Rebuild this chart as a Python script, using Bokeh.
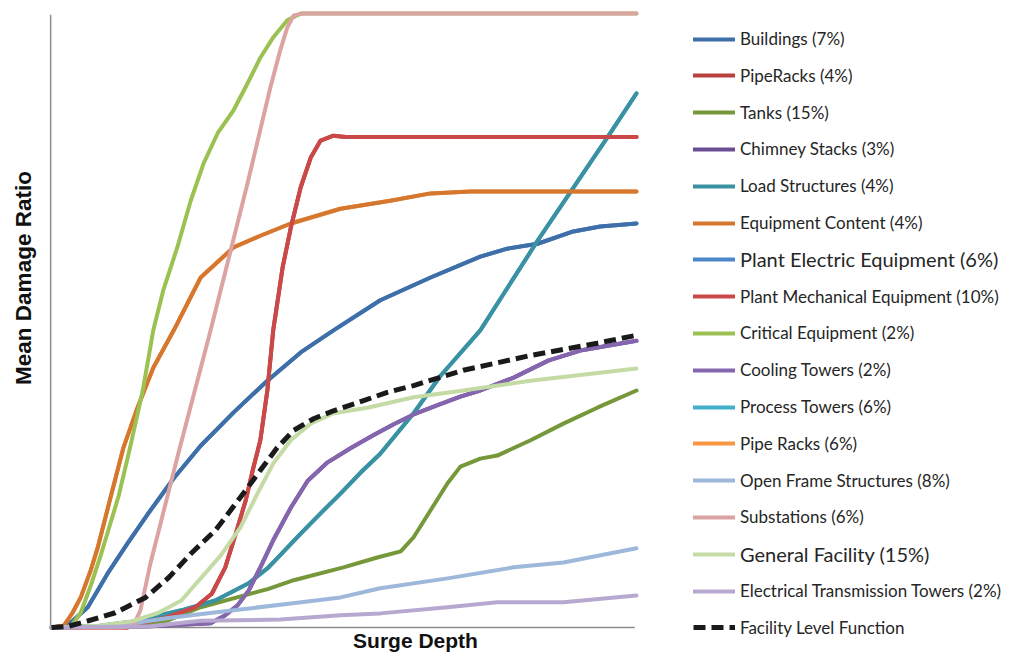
import math
from bokeh.plotting import figure
from bokeh.models import Legend, LegendItem, Label, Range1d
from bokeh.embed import file_html
from bokeh.resources import INLINE

# ---- data (surge depth in arbitrary units 0..100, mean damage ratio 0..1) ----
buildings_x = [0, 2.7, 6.2, 9.6, 13.0, 16.4, 20.9, 25.5, 31.1, 36.9, 42.6, 48.2, 56.2, 64.8, 73.3, 77.9, 83.1, 89.2, 93.8, 100]
buildings_y = [0, 0.003, 0.033, 0.088, 0.137, 0.184, 0.243, 0.296, 0.350, 0.402, 0.448, 0.484, 0.533, 0.570, 0.604, 0.617, 0.625, 0.645, 0.653, 0.658]

mech_x = [0, 13.0, 13.7, 19.5, 24.6, 27.4, 29.7, 31.5, 33.2, 34.4, 35.7, 36.9, 37.9, 39.5, 40.9, 42.6, 44.3, 46.0, 48.2, 50.3, 100]
mech_y = [0, 0, 0.003, 0.016, 0.033, 0.055, 0.098, 0.153, 0.207, 0.256, 0.305, 0.386, 0.484, 0.586, 0.651, 0.717, 0.765, 0.793, 0.801, 0.799, 0.799]

tanks_x = [0, 11.8, 19.8, 25.5, 37.1, 41.4, 49.9, 55.7, 59.7, 61.9, 64.8, 67.7, 69.9, 73.3, 76.2, 81.9, 87.5, 93.3, 100]
tanks_y = [0, 0.002, 0.011, 0.033, 0.063, 0.077, 0.098, 0.114, 0.124, 0.147, 0.191, 0.235, 0.262, 0.275, 0.280, 0.305, 0.332, 0.358, 0.386]

cooling_x = [0, 16.9, 27.2, 29.7, 31.8, 33.7, 35.7, 37.9, 40.9, 43.8, 47.2, 51.1, 55.0, 58.5, 61.9, 66.0, 69.9, 73.3, 79.0, 85.0, 90.4, 100]
cooling_y = [0, 0.002, 0.007, 0.020, 0.036, 0.060, 0.098, 0.142, 0.195, 0.239, 0.269, 0.292, 0.313, 0.331, 0.347, 0.362, 0.376, 0.386, 0.407, 0.435, 0.451, 0.467]

load_x = [0, 8.4, 14.0, 22.2, 28.0, 33.7, 37.1, 42.6, 46.0, 49.4, 52.8, 56.2, 61.9, 66.5, 73.3, 83.1, 95.0, 100]
load_y = [0, 0.003, 0.010, 0.028, 0.044, 0.072, 0.098, 0.153, 0.186, 0.218, 0.252, 0.283, 0.349, 0.410, 0.484, 0.630, 0.798, 0.870]

equip_x = [0, 2.1, 3.6, 5.0, 6.7, 7.9, 10.1, 12.3, 14.7, 17.4, 20.9, 25.5, 31.1, 35.7, 40.9, 49.4, 57.9, 64.8, 71.6, 100]
equip_y = [0, 0.003, 0.024, 0.049, 0.093, 0.130, 0.212, 0.293, 0.358, 0.423, 0.484, 0.570, 0.619, 0.638, 0.658, 0.682, 0.695, 0.707, 0.710, 0.710]

critical_x = [0, 3.2, 5.0, 6.7, 8.4, 9.7, 11.5, 13.5, 15.6, 17.4, 19.1, 21.5, 23.8, 26.0, 28.4, 31.1, 33.5, 35.7, 37.9, 40.3, 42.6, 100]
critical_y = [0, 0, 0.024, 0.068, 0.117, 0.158, 0.215, 0.296, 0.386, 0.484, 0.549, 0.619, 0.695, 0.756, 0.805, 0.842, 0.886, 0.928, 0.961, 0.989, 1.0, 1.0]

subst_x = [0, 11.8, 14.0, 15.2, 16.9, 21.5, 27.2, 33.5, 37.4, 39.1, 40.3, 41.4, 43.1, 100]
subst_y = [0, 0, 0.003, 0.028, 0.104, 0.277, 0.484, 0.723, 0.879, 0.940, 0.977, 0.997, 1.0, 1.0]

openframe_x = [0, 8.4, 14.0, 20.3, 31.1, 40.9, 49.4, 56.2, 67.7, 79.0, 87.5, 100]
openframe_y = [0, 0.002, 0.007, 0.016, 0.028, 0.039, 0.049, 0.064, 0.080, 0.098, 0.106, 0.129]

transm_x = [0, 16.9, 25.5, 39.1, 49.4, 56.2, 67.7, 76.2, 87.5, 100]
transm_y = [0, 0.002, 0.011, 0.013, 0.020, 0.023, 0.033, 0.041, 0.041, 0.052]

general_x = [0, 8.0, 13.7, 18.3, 22.2, 25.5, 28.9, 32.3, 35.2, 37.9, 40.9, 44.3, 48.2, 54.0, 61.9, 70.4, 81.9, 100]
general_y = [0, 0.003, 0.010, 0.024, 0.044, 0.080, 0.117, 0.163, 0.218, 0.267, 0.305, 0.332, 0.349, 0.358, 0.375, 0.386, 0.402, 0.422]

facility_x = [0, 2.9, 6.3, 10.9, 16.1, 20.0, 23.9, 28.0, 32.3, 35.7, 38.6, 41.4, 44.8, 48.2, 52.3, 57.4, 61.9, 70.4, 81.9, 93.3, 100]
facility_y = [0, 0.002, 0.011, 0.024, 0.049, 0.081, 0.121, 0.158, 0.212, 0.256, 0.293, 0.321, 0.340, 0.353, 0.366, 0.383, 0.394, 0.419, 0.443, 0.463, 0.476]

labels = [
    "Buildings (7%)", "PipeRacks (4%)", "Tanks (15%)", "Chimney Stacks (3%)",
    "Load Structures (4%)", "Equipment Content (4%)", "Plant Electric Equipment (6%)",
    "Plant Mechanical Equipment (10%)", "Critical Equipment (2%)", "Cooling Towers (2%)",
    "Process Towers (6%)", "Pipe Racks (6%)", "Open Frame Structures (8%)",
    "Substations (6%)", "General Facility (15%)", "Electrical Transmission Towers (2%)",
]
colors = [
    "#3E6FA8", "#B8403D", "#76983A", "#6A4E93",
    "#3A91A2", "#D6772F", "#4A86C8",
    "#CB4848", "#9BC152", "#8566AE",
    "#44AFCB", "#F99642", "#9DB8DB",
    "#DCA3A3", "#C5DBA6", "#B7A8CF",
]
# series in legend order; some curves coincide with (and are hidden under) others
series = [
    (buildings_x, buildings_y), (mech_x, mech_y), (tanks_x, tanks_y), (cooling_x, cooling_y),
    (load_x, load_y), (equip_x, equip_y), (buildings_x, buildings_y),
    (mech_x, mech_y), (critical_x, critical_y), (cooling_x, cooling_y),
    (load_x, load_y), (equip_x, equip_y), (openframe_x, openframe_y),
    (subst_x, subst_y), (general_x, general_y), (transm_x, transm_y),
]
facility_label = "Facility Level Function"
large_labels = {6, 14}  # entries printed in a larger font in the original

# ---- figure: the frame covers the whole canvas; axes drawn as plain lines ----
W, H = 1004, 654
PX_X = 5.85   # pixels per x unit
PX_Y = 614.0  # pixels per y unit
X0, Y0 = 51, 627  # pixel position of the origin
p = figure(width=W, height=H, output_backend="svg", toolbar_location=None,
           x_axis_location=None, y_axis_location=None,
           x_range=Range1d(-X0 / PX_X, (W - X0) / PX_X),
           y_range=Range1d(-(H - Y0) / PX_Y, Y0 / PX_Y))
p.min_border = 0
p.outline_line_color = None
p.grid.visible = False
p.background_fill_color = "white"
p.border_fill_color = "white"

all_x = [v for s in series for v in s[0]]
all_y = [v for s in series for v in s[1]]
xmin, xmax = min(all_x), max(all_x)
ymin, ymax = min(all_y), max(all_y)
# axis lines
p.segment(x0=[xmin - 0.15, xmin - 0.15], y0=[ymin, ymin], x1=[xmin - 0.15, xmax - 0.3],
          y1=[ymax - 0.002, ymin], line_color="#8c8c8c", line_width=1.5)

hidden_order = [1, 3, 6, 10, 11]
renderers = {}
order = hidden_order + [i for i in range(len(labels)) if i not in hidden_order]
for i in order:
    xs, ys = series[i]
    renderers[i] = p.line(xs, ys, line_color=colors[i], line_width=4,
                          line_join="round", line_cap="round")
rf = p.line(facility_x, facility_y, line_color="#1a1a1a", line_width=5, line_dash="12 6")

# one small legend per entry so each row can be placed and sized like the original
entries = [(labels[i], renderers[i], i in large_labels) for i in range(len(labels))]
entries.append((facility_label, rf, False))
ROW0, PITCH, ROWH = 38.5, 36.8, 26
for k, (lab, rend, big) in enumerate(entries):
    yc = ROW0 + PITCH * k
    lg = Legend(items=[LegendItem(label=lab, renderers=[rend])],
                location=(693, H - yc - ROWH / 2))
    lg.label_text_font = "Lato"
    lg.label_text_font_size = "20px" if big else "17px"
    lg.label_text_color = "#262626"
    lg.glyph_width = 42
    lg.glyph_height = ROWH
    lg.label_height = ROWH
    lg.label_standoff = 5
    lg.padding = 0
    lg.margin = 0
    lg.border_line_color = None
    lg.background_fill_alpha = 0
    p.add_layout(lg, "center")

ylab = Label(x=23, y=H - 277.5, x_units="screen", y_units="screen", text="Mean Damage Ratio",
             angle=math.pi / 2, text_align="center", text_baseline="alphabetic",
             text_font="Liberation Sans", text_font_style="bold", text_font_size="22.5px",
             text_color="#111111")
xlab = Label(x=415, y=3, x_units="screen", y_units="screen", text="Surge Depth",
             text_align="center", text_baseline="bottom",
             text_font="Liberation Sans", text_font_style="bold", text_font_size="21px",
             text_color="#111111")
p.add_layout(ylab)
p.add_layout(xlab)

open("out.html", "w").write(file_html(p, INLINE))
